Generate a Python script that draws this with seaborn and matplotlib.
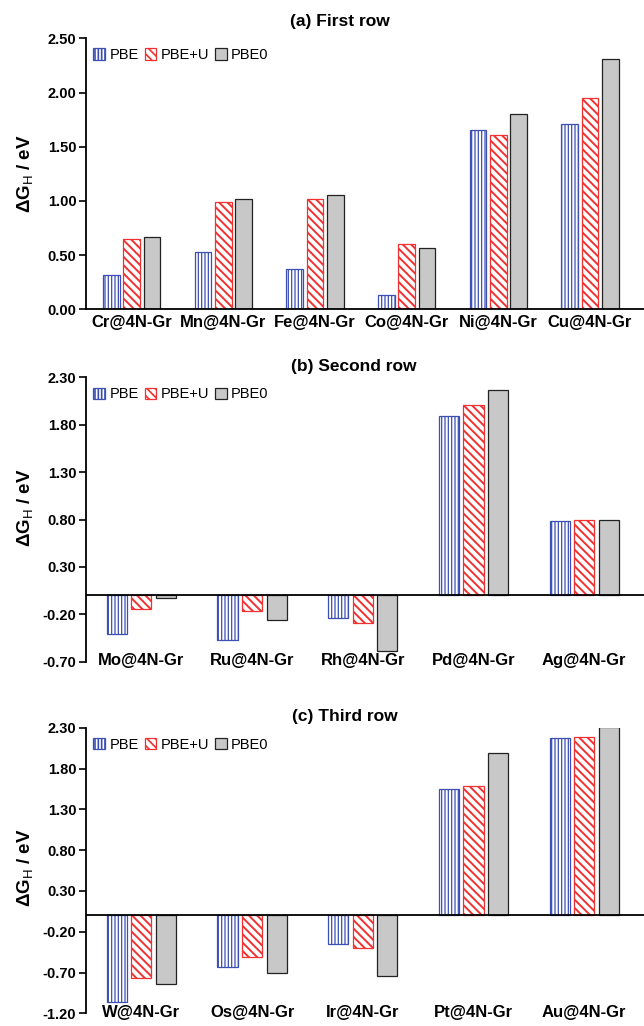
import numpy as np
import pandas as pd
import matplotlib
matplotlib.use("Agg")
import matplotlib.pyplot as plt
from matplotlib.patches import Patch
import seaborn as sns

# ---- data (eV) ----
methods = ["PBE", "PBE+U", "PBE0"]

row1_sites = ["Cr@4N-Gr", "Mn@4N-Gr", "Fe@4N-Gr", "Co@4N-Gr", "Ni@4N-Gr", "Cu@4N-Gr"]
row1_pbe = [0.32, 0.53, 0.37, 0.13, 1.65, 1.71]
row1_pbeu = [0.65, 0.99, 1.02, 0.60, 1.61, 1.95]
row1_pbe0 = [0.67, 1.02, 1.05, 0.57, 1.80, 2.31]

row2_sites = ["Mo@4N-Gr", "Ru@4N-Gr", "Rh@4N-Gr", "Pd@4N-Gr", "Ag@4N-Gr"]
row2_pbe = [-0.41, -0.47, -0.24, 1.89, 0.78]
row2_pbeu = [-0.14, -0.16, -0.29, 2.01, 0.79]
row2_pbe0 = [-0.03, -0.26, -0.59, 2.17, 0.79]

row3_sites = ["W@4N-Gr", "Os@4N-Gr", "Ir@4N-Gr", "Pt@4N-Gr", "Au@4N-Gr"]
row3_pbe = [-1.06, -0.63, -0.35, 1.55, 2.17]
row3_pbeu = [-0.77, -0.51, -0.40, 1.58, 2.19]
row3_pbe0 = [-0.84, -0.71, -0.74, 1.99, 2.31]

titles = ["(a) First row", "(b) Second row", "(c) Third row"]
yticks1 = [0.0, 0.5, 1.0, 1.5, 2.0, 2.5]
yticks2 = [-0.7, -0.2, 0.3, 0.8, 1.3, 1.8, 2.3]
yticks3 = [-1.2, -0.7, -0.2, 0.3, 0.8, 1.3, 1.8, 2.3]

# ---- style ----
sns.set_style("ticks")
plt.rcParams["font.family"] = ["Liberation Sans", "DejaVu Sans"]
plt.rcParams["mathtext.fontset"] = "custom"
plt.rcParams["mathtext.rm"] = "Liberation Sans"
plt.rcParams["mathtext.it"] = "Liberation Sans:italic"
plt.rcParams["mathtext.bf"] = "Liberation Sans:bold"
plt.rcParams["hatch.linewidth"] = 1.2
for k in ["text.color", "axes.labelcolor", "xtick.color", "ytick.color", "axes.edgecolor"]:
    plt.rcParams[k] = "black"

blue = "#3c4fb4"
red = "#f23030"
gray = "#c8c8c8"
styles = {
    "PBE": dict(fc="white", ec=blue, hatch="|||||", hlw=0.9),
    "PBE+U": dict(fc="white", ec=red, hatch="\\\\\\\\", hlw=1.4),
    "PBE0": dict(fc=gray, ec="#222222", hatch=None, hlw=1.0),
}

W, H = 644, 1026
fig = plt.figure(figsize=(W / 100, H / 100), dpi=100)

# axes boxes in pixels: (top, bottom) of the y range
boxes = [(38.3, 309.3), (377.3, 661.7), (727.7, 1013.3)]
left_px = 86
title_pos = [(340, 22), (354, 367), (345, 717)]
ylab_y = [0.5, 0.54, 0.51]

panels = [
    (row1_sites, row1_pbe, row1_pbeu, row1_pbe0, yticks1, 5.59),
    (row2_sites, row2_pbe, row2_pbeu, row2_pbe0, yticks2, 4.54),
    (row3_sites, row3_pbe, row3_pbeu, row3_pbe0, yticks3, 4.54),
]

for i, (sites, pbe, pbeu, pbe0, yt, xr) in enumerate(panels):
    top, bot = boxes[i]
    ax = fig.add_axes([left_px / W, 1 - bot / H, 1 - left_px / W, (bot - top) / H])

    df = pd.DataFrame({
        "site": sites * 3,
        "method": ["PBE"] * len(sites) + ["PBE+U"] * len(sites) + ["PBE0"] * len(sites),
        "dG": pbe + pbeu + pbe0,
    })
    sns.barplot(data=df, x="site", y="dG", hue="method", order=sites, hue_order=methods,
                width=0.666, gap=0.18, errorbar=None, legend=False, ax=ax)

    for m, cont in zip(methods, ax.containers):
        st = styles[m]
        for bar in cont:
            bar.set_facecolor(st["fc"])
            bar.set_edgecolor(st["ec"])
            bar.set_linewidth(0.9)
            if st["hatch"]:
                bar.set_hatch(st["hatch"])
                if hasattr(bar, "set_hatch_linewidth"):
                    bar.set_hatch_linewidth(st["hlw"])

    ax.set_xlim(-0.5, xr)
    ax.set_ylim(yt[0], yt[-1])
    ax.set_yticks(yt)
    ax.set_yticklabels([f"{v:.2f}" for v in yt], fontsize=10.5, fontweight="bold")
    ax.set_xlabel("")
    ax.set_ylabel(r"ΔG$_{\mathrm{H}}$ / eV", fontsize=13.5, fontweight="bold")
    ax.yaxis.set_label_coords((35 - left_px) / (W - left_px), ylab_y[i])

    for lab in ax.get_xticklabels():
        lab.set_fontsize(12)
        lab.set_fontweight("bold")
    ax.tick_params(axis="x", length=0, pad=4 if i == 0 else -6)
    ax.tick_params(axis="y", direction="out", length=5, width=1.2, pad=2)

    ax.spines["right"].set_visible(False)
    ax.spines["top"].set_visible(False)
    ax.spines["left"].set_linewidth(1.3)
    if i == 0:
        ax.spines["bottom"].set_linewidth(1.3)
    else:
        ax.spines["bottom"].set_visible(False)
        ax.axhline(0, color="black", lw=1.3, zorder=5)

    handles = []
    for m in methods:
        p = Patch(facecolor=styles[m]["fc"], edgecolor=styles[m]["ec"],
                  hatch=styles[m]["hatch"], label=m, linewidth=0.9)
        handles.append(p)
    ax.legend(handles=handles, loc="upper left", bbox_to_anchor=(0.008, 0.975),
              ncol=3, frameon=False, fontsize=10.5, handlelength=0.8, handleheight=0.8,
              handletextpad=0.3, columnspacing=0.4, borderaxespad=0, borderpad=0.2)

    tx, ty = title_pos[i]
    fig.text(tx / W, 1 - ty / H, titles[i], ha="center", va="center",
             fontsize=12.5, fontweight="bold")

fig.savefig("out.png", dpi=100)
